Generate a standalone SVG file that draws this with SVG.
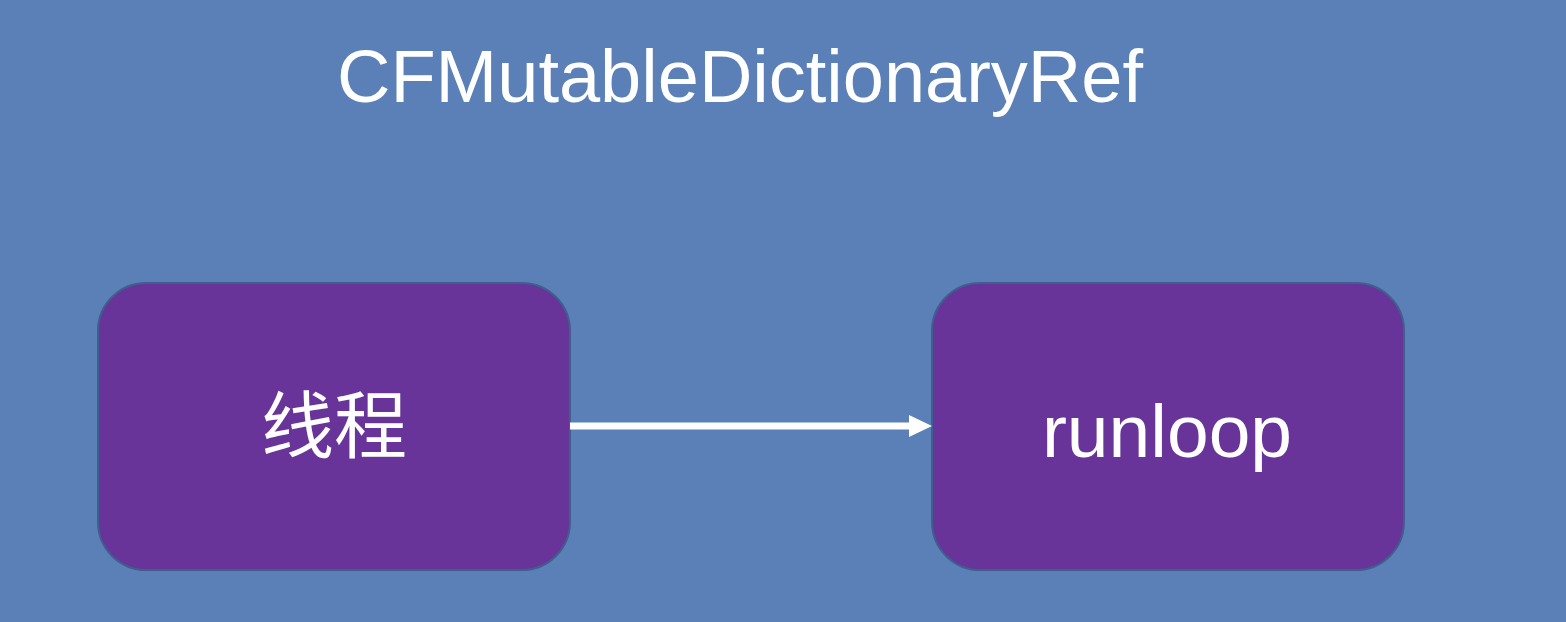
<svg xmlns="http://www.w3.org/2000/svg" width="1566" height="622" viewBox="0 0 1566 622">
<style>
.box{fill:#68349a;stroke:#3f5f8c;stroke-width:2}
.t{fill:#fff;font-family:"Liberation Sans",Arial,sans-serif;text-anchor:middle}
.cjk{fill:#fff;font-family:"Noto Sans CJK SC",sans-serif;text-anchor:middle}
</style>
<defs>
<marker id="ah" markerUnits="userSpaceOnUse" markerWidth="24" markerHeight="24" refX="1" refY="11" orient="auto">
<path d="M0,0 L23,11 L0,22 Z" fill="#fff"/>
</marker>
</defs>
<rect width="1566" height="622" fill="#5b80b7"/>
<text class="t" x="740" y="102" font-size="74">CFMutableDictionaryRef</text>
<g id="node-thread">
<rect class="box" x="98" y="283" width="472" height="287" rx="48"/>
<text class="cjk" x="334" y="452" font-size="73">线程</text>
</g>
<g id="node-runloop">
<rect class="box" x="932" y="283" width="472" height="287" rx="48"/>
<text class="t" x="1167" y="457" font-size="75">runloop</text>
</g>
<g id="connectors">
<line x1="570" y1="426" x2="910" y2="426" stroke="#fff" stroke-width="7" marker-end="url(#ah)"/>
</g>
</svg>
